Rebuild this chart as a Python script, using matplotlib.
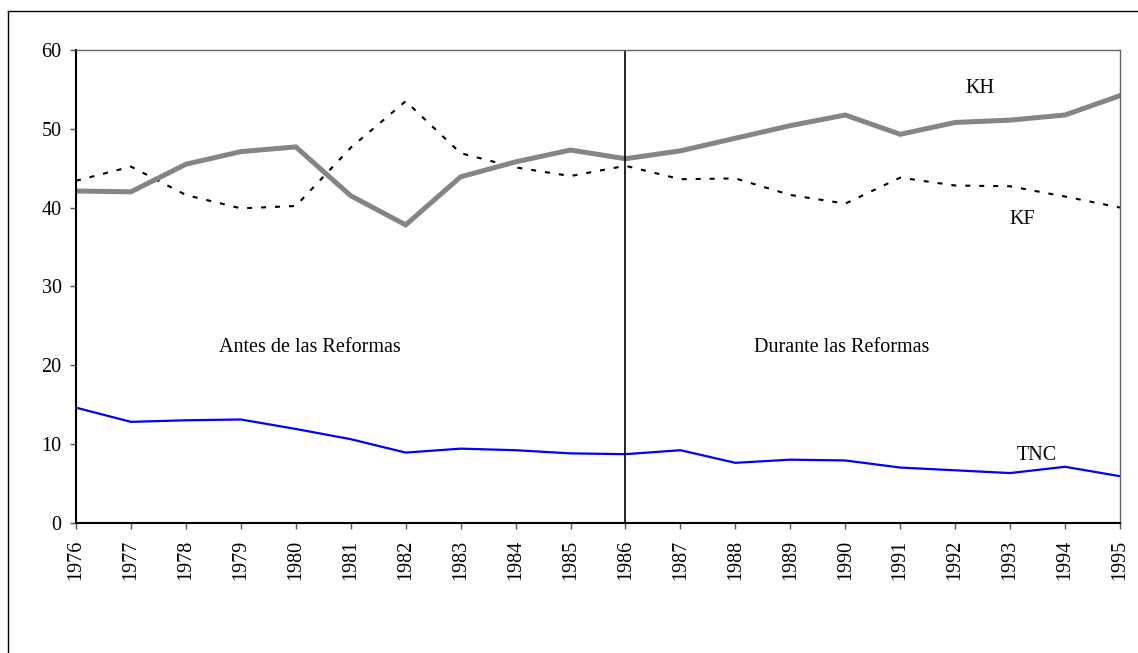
import matplotlib
matplotlib.use("Agg")
import matplotlib.pyplot as plt
from matplotlib.lines import Line2D

years = list(range(1976, 1996))
KH = [42.1, 42.0, 45.5, 47.1, 47.7, 41.5, 37.8, 43.9, 45.8, 47.3,
      46.2, 47.2, 48.8, 50.4, 51.75, 49.3, 50.8, 51.1, 51.75, 54.2]
KF = [43.4, 45.2, 41.6, 39.9, 40.2, 47.6, 53.5, 46.9, 45.1, 44.0,
      45.3, 43.6, 43.7, 41.6, 40.5, 43.8, 42.8, 42.7, 41.4, 40.0]
TNC = [14.6, 12.8, 13.0, 13.1, 11.9, 10.6, 8.9, 9.4, 9.2, 8.8,
       8.7, 9.2, 7.6, 8.0, 7.9, 7.0, 6.65, 6.3, 7.1, 5.9]
yticks = [0, 10, 20, 30, 40, 50, 60]
reform_year = 1986

plt.rcParams['font.family'] = ['Liberation Serif', 'DejaVu Serif']
FS = 14.5

fig = plt.figure(figsize=(11.38, 6.53), dpi=100)
ax = fig.add_axes([76/1138, 1-522.7/653, (1120-76)/1138, (522.7-50)/653])

ax.plot(years, TNC, color='#0000FF', lw=1.6, solid_joinstyle='miter')
ax.plot(years, KF, color='black', lw=1.5, dashes=(2.4, 4.3))
ax.plot(years, KH, color='#858585', lw=3.6, solid_joinstyle='miter')
ax.plot([reform_year, reform_year], [0, 60], color='black', lw=1.2)

ax.set_xlim(years[0], years[-1])
ax.set_ylim(0, 60)
ax.set_yticks(yticks)
ax.set_xticks(years)
ax.set_xticklabels([str(y) for y in years], rotation=90, fontsize=FS)
ax.set_yticklabels([str(v) for v in yticks], fontsize=FS)
ax.tick_params(axis='both', direction='out', length=4.3, width=1, color='#555555')
ax.tick_params(axis='x', pad=8)
ax.tick_params(axis='y', pad=6)

for s in ['left', 'bottom']:
    ax.spines[s].set_color('black')
    ax.spines[s].set_linewidth(1.5)
for s in ['top', 'right']:
    ax.spines[s].set_color('#666666')
    ax.spines[s].set_linewidth(1.0)

ax.text(1980.25, 21.65, 'Antes de las Reformas', ha='center', va='baseline', fontsize=FS)
ax.text(1989.94, 21.65, 'Durante las Reformas', ha='center', va='baseline', fontsize=FS)
ax.text(1992.46, 54.6, 'KH', ha='center', va='baseline', fontsize=FS)
ax.text(1993.22, 37.9, 'KF', ha='center', va='baseline', fontsize=FS)
ax.text(1993.48, 7.95, 'TNC', ha='center', va='baseline', fontsize=FS)

# outer frame (left and top edges visible)
fig.add_artist(Line2D([8/1138, 8/1138], [0, 1-11/653], transform=fig.transFigure, color='black', lw=1))
fig.add_artist(Line2D([8/1138, 1], [1-11/653, 1-11/653], transform=fig.transFigure, color='black', lw=1))

fig.savefig('out.png', dpi=100)
